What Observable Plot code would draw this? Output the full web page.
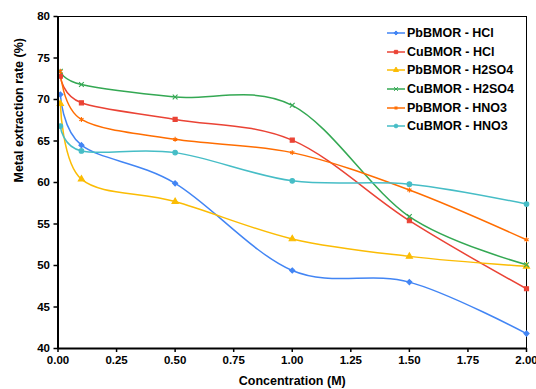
<!DOCTYPE html>
<html><head><meta charset="utf-8">
<script src="https://cdn.jsdelivr.net/npm/d3@7"></script>
<script src="https://cdn.jsdelivr.net/npm/@observablehq/plot@0.6"></script>
<style>
body{margin:0;background:#fff;}
#wrap{position:relative;width:536px;height:389px;font-family:"Liberation Sans",Arial,sans-serif;}
#legend{position:absolute;left:387px;top:24px;font-weight:bold;font-size:12.5px;color:#000;}
.row{display:flex;align-items:center;height:18.6px;}
.row span{margin-left:2px;}
</style></head><body><div id="wrap"></div>
<script>
const concentration = [0.01, 0.1, 0.5, 1.0, 1.5, 2.0];
const seriesNames = ["PbBMOR - HCl", "CuBMOR - HCl", "PbBMOR - H2SO4", "CuBMOR - H2SO4", "PbBMOR - HNO3", "CuBMOR - HNO3"];
const pbHCl   = [70.6, 64.5, 59.9, 49.4, 48.0, 41.8];
const cuHCl   = [72.8, 69.6, 67.6, 65.1, 55.4, 47.2];
const pbH2SO4 = [69.5, 60.4, 57.7, 53.2, 51.1, 49.9];
const cuH2SO4 = [73.4, 71.8, 70.3, 69.3, 55.9, 50.1];
const pbHNO3  = [73.4, 67.6, 65.2, 63.6, 59.1, 53.1];
const cuHNO3  = [66.8, 63.8, 63.6, 60.2, 59.8, 57.4];
const xTicks = [0, 0.25, 0.5, 0.75, 1.0, 1.25, 1.5, 1.75, 2.0];
const yTicks = [40, 45, 50, 55, 60, 65, 70, 75, 80];
const xTitle = "Concentration (M)";
const yTitle = "Metal extraction rate (%)";

const colors = ["#4285F4", "#EA4335", "#FBBC04", "#34A853", "#FF6D01", "#46BDC6"];
const symbols = ["diamond2", "square", "triangle", "times", "asterisk", "circle"];

const allValues = [pbHCl, cuHCl, pbH2SO4, cuH2SO4, pbHNO3, cuHNO3];
const data = seriesNames.flatMap((name, i) =>
  concentration.map((c, j) => ({series: name, x: c, y: allValues[i][j]})));

const xDomain = [xTicks[0], xTicks[xTicks.length - 1]];
const yDomain = [yTicks[0], yTicks[yTicks.length - 1]];

const chart = Plot.plot({
  width: 536, height: 389,
  marginLeft: 57.5, marginRight: 10, marginTop: 16, marginBottom: 41,
  style: {fontFamily: "'Liberation Sans', Arial, sans-serif", fontSize: "11.5px", fontWeight: "bold", color: "#000", background: "#fff"},
  x: {domain: xDomain},
  y: {domain: yDomain},
  color: {domain: seriesNames, range: colors},
  symbol: {domain: seriesNames, range: symbols},
  marks: [
    Plot.frame({stroke: "#000", strokeWidth: 1}),
    Plot.line(data, {x: "x", y: "y", z: "series", stroke: "series", curve: "cardinal", strokeWidth: 1.5}),
    Plot.dot(data, {x: "x", y: "y", symbol: "series", fill: "series", stroke: "series", r: 2.3, strokeWidth: 1.1}),
    Plot.ruleX([xDomain[0]], {stroke: "#000", strokeWidth: 2}),
    Plot.ruleY([yDomain[0]], {stroke: "#000", strokeWidth: 2}),
    Plot.axisX({ticks: xTicks, tickFormat: d3.format(".2f"), tickSize: 4, tickPadding: 3, label: null, stroke: "#000", strokeWidth: 1.5}),
    Plot.axisY({ticks: yTicks, tickSize: 4, tickPadding: 4, label: null, stroke: "#000", strokeWidth: 1.5}),
    Plot.text([xTitle], {frameAnchor: "bottom", dy: 36, fontSize: 12.5, fontWeight: "bold"}),
    Plot.text([yTitle], {frameAnchor: "left", dx: -39, rotate: -90, fontSize: 12.5, fontWeight: "bold"})
  ]
});

const wrap = document.getElementById("wrap");
wrap.appendChild(chart);

const legend = document.createElement("div");
legend.id = "legend";
const symMap = {diamond2: d3.symbolDiamond2, square: d3.symbolSquare, triangle: d3.symbolTriangle, times: d3.symbolTimes, asterisk: d3.symbolAsterisk, circle: d3.symbolCircle};
seriesNames.forEach((name, i) => {
  const row = document.createElement("div");
  row.className = "row";
  const svg = d3.create("svg").attr("width", 18).attr("height", 10);
  svg.append("line").attr("x1", 0).attr("x2", 18).attr("y1", 5).attr("y2", 5).attr("stroke", colors[i]).attr("stroke-width", 1.5);
  svg.append("path").attr("transform", "translate(9,5)")
    .attr("d", d3.symbol(symMap[symbols[i]], 3.5 * Math.PI)())
    .attr("fill", colors[i]).attr("stroke", colors[i]).attr("stroke-width", 1);
  row.appendChild(svg.node());
  const t = document.createElement("span");
  t.textContent = name;
  row.appendChild(t);
  legend.appendChild(row);
});
wrap.appendChild(legend);
</script>
</body></html>
